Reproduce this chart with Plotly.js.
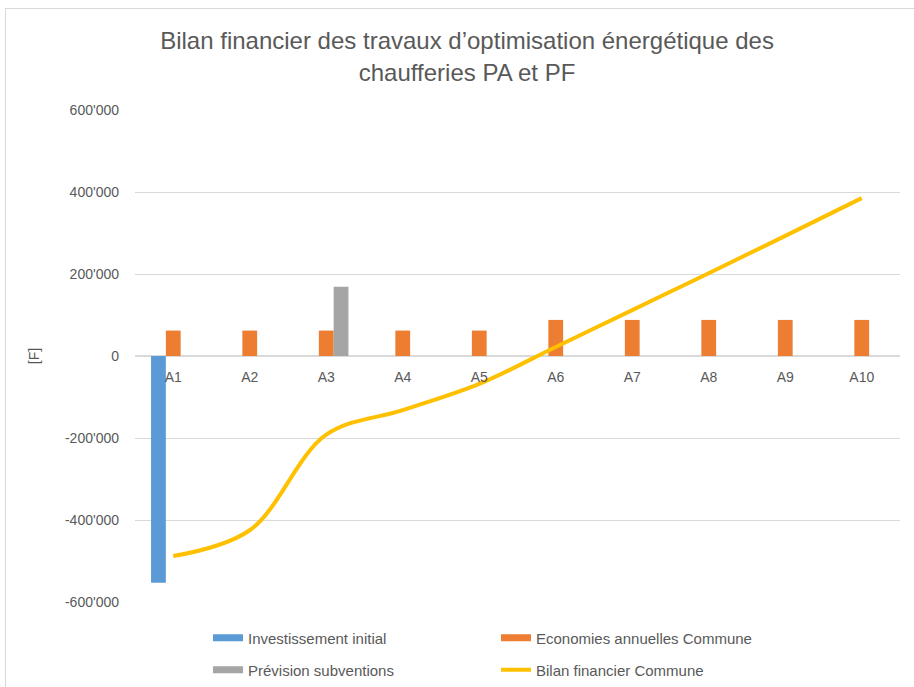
<!DOCTYPE html>
<html><head><meta charset="utf-8">
<script src="https://cdn.plot.ly/plotly-3.0.1.min.js"></script>
<style>body{margin:0;padding:0;background:#fff;overflow:hidden}#frame{position:absolute;left:5px;top:8px;width:920px;height:700px;border:1px solid #d9d9d9;pointer-events:none}</style>
</head><body>
<div id="chart" style="width:914px;height:687px;"></div>
<div id="frame"></div>
<script>
const categories = ['A1','A2','A3','A4','A5','A6','A7','A8','A9','A10'];
const investissement = [-553000, null, null, null, null, null, null, null, null, null];
const economies = [62000, 62000, 62000, 62000, 62000, 88000, 88000, 88000, 88000, 88000];
const subventions = [null, null, 169000, null, null, null, null, null, null, null];
const bilan = [-488000, -425000, -192000, -132000, -68000, 22000, 112000, 202000, 293000, 385000];
const yTicks = [-600000, -400000, -200000, 0, 200000, 400000, 600000];
const yTickLabels = ["-600'000", "-400'000", "-200'000", "0", "200'000", "400'000", "600'000"];
const seriesNames = ['Investissement initial', 'Economies annuelles Commune', 'Prévision subventions', 'Bilan financier Commune'];
const colors = ['#5B9BD5', '#ED7D31', '#A5A5A5', '#FFC000'];

const font = {family: 'Liberation Sans, Arial, sans-serif', color: '#595959'};
const traces = [
  {type:'bar', name:seriesNames[0], x:categories, y:investissement, marker:{color:colors[0]}, showlegend:false},
  {type:'bar', name:seriesNames[1], x:categories, y:economies, marker:{color:colors[1]}, showlegend:false},
  {type:'bar', name:seriesNames[2], x:categories, y:subventions, marker:{color:colors[2]}, showlegend:false},
  {type:'scatter', mode:'lines', name:seriesNames[3], x:categories, y:bilan,
   line:{color:colors[3], width:4, shape:'spline', smoothing:1}, showlegend:false},
  // legend entries
  {type:'scatter', mode:'lines', name:seriesNames[0], x:[null], y:[null], line:{color:colors[0], width:7}, legend:'legend'},
  {type:'scatter', mode:'lines', name:seriesNames[1], x:[null], y:[null], line:{color:colors[1], width:7}, legend:'legend'},
  {type:'scatter', mode:'lines', name:seriesNames[2], x:[null], y:[null], line:{color:colors[2], width:7}, legend:'legend2'},
  {type:'scatter', mode:'lines', name:seriesNames[3], x:[null], y:[null], line:{color:colors[3], width:4}, legend:'legend2'}
];
const legendBase = {orientation:'h', xanchor:'left', yanchor:'middle', entrywidth:243, entrywidthmode:'pixels',
    font:Object.assign({size:15}, font), traceorder:'normal', bgcolor:'rgba(0,0,0,0)'};
const layout = {
  width:914, height:687,
  margin:{l:135, r:14, t:110, b:85, autoexpand:false},
  paper_bgcolor:'#fff', plot_bgcolor:'#fff',
  font: Object.assign({size:14}, font),
  title:{text:'Bilan financier des travaux d’optimisation énergétique des<br>chaufferies PA et PF',
    font:Object.assign({size:24}, font), x:0.511, xanchor:'center', y:0.928, yref:'container', yanchor:'middle'},
  barmode:'group', bargap:0.42, bargroupgap:0,
  xaxis:{anchor:'free', position:0.5, showgrid:false, showline:false, zeroline:false, ticks:'',
    tickfont:Object.assign({size:14}, font), ticklabelstandoff:11},
  yaxis:{range:[-600000, 600000], tickvals:yTicks, ticktext:yTickLabels, showgrid:true, gridcolor:'#d9d9d9', gridwidth:1,
    zeroline:true, zerolinecolor:'#d9d9d9', zerolinewidth:2, ticks:'', showline:false,
    tickfont:Object.assign({size:14}, font), ticklabelstandoff:15,
    title:{text:'[F]', font:Object.assign({size:14}, font), standoff:22}},
  legend:Object.assign({x:(208-135)/765, y:-(638-602)/492}, legendBase),
  legend2:Object.assign({x:(208-135)/765, y:-(670-602)/492}, legendBase),
  showlegend:true
};
Plotly.newPlot('chart', traces, layout, {displayModeBar:false, staticPlot:true});
</script>
</body></html>
